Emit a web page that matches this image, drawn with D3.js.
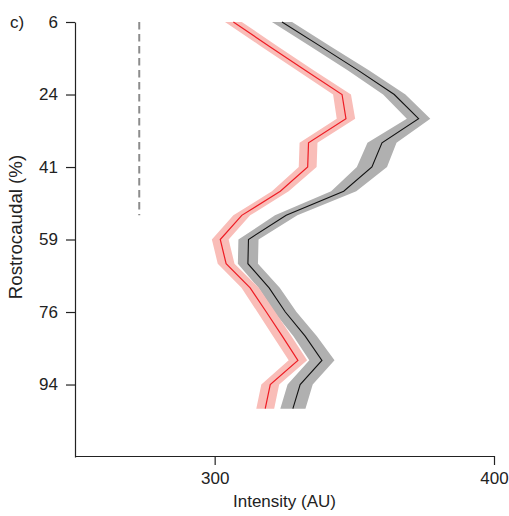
<!DOCTYPE html>
<html>
<head>
<meta charset="utf-8">
<script src="https://cdn.jsdelivr.net/npm/d3@7"></script>
<style>
  html, body { margin: 0; padding: 0; background: #fff; }
  svg text { font-family: "Liberation Sans", Arial, sans-serif; fill: #222; }
</style>
</head>
<body>
<svg id="chart" width="509" height="516"></svg>
<script>
// Rostrocaudal position (%) of each section
const positions = [5.88, 11.76, 17.65, 23.53, 29.41, 35.29, 41.18, 47.06, 52.94,
                   58.82, 64.71, 70.59, 76.47, 82.35, 88.24, 94.12, 100];

// Mean intensity (AU) and SEM per section, red group
const redMean = [306.7, 319.5, 332.4, 345.6, 347.0, 333.6, 333.3, 323.5, 309.7,
                 302.0, 304.1, 312.7, 318.5, 324.2, 329.8, 319.9, 318.1];
const redSem  = [3.0, 3.0, 3.0, 3.2, 3.3, 3.2, 3.2, 3.0, 3.0,
                 3.0, 3.0, 3.1, 3.2, 3.3, 3.3, 3.2, 3.2];

// Mean intensity (AU) and SEM per section, black group
const blackMean = [324.1, 337.8, 351.4, 364.3, 373.0, 359.9, 356.3, 346.2, 325.6,
                   312.1, 311.9, 319.5, 325.3, 332.4, 338.4, 330.6, 328.0];
const blackSem  = [3.6, 3.6, 3.8, 4.0, 4.2, 5.2, 5.4, 4.5, 4.0,
                   3.6, 3.6, 3.8, 4.0, 4.2, 4.5, 4.5, 4.5];

// Reference level drawn as a dashed line over the rostral sections
const refValue = 273;
const refExtent = [5.88, 52.94];

const yTickValues = [5.88, 23.53, 41.18, 58.82, 76.47, 94.12];
const xTickValues = [300, 400];

const svg = d3.select("#chart");

const x = d3.scaleLinear().domain([250, 400]).range([75, 494]);
const y = d3.scaleLinear().domain([5.88, 111.76]).range([22, 457]);

function band(mean, sem) {
  return d3.area()
    .y((d, i) => y(positions[i]))
    .x0((d, i) => x(mean[i] - sem[i]))
    .x1((d, i) => x(mean[i] + sem[i]))(mean);
}
function line(mean) {
  return d3.line()
    .y((d, i) => y(positions[i]))
    .x(d => x(d))(mean);
}

// SEM bands
svg.append("path").attr("d", band(blackMean, blackSem)).attr("fill", "#b0b0b0");
svg.append("path").attr("d", band(redMean, redSem)).attr("fill", "#f9bdb8");

// Mean lines
svg.append("path").attr("d", line(blackMean))
  .attr("fill", "none").attr("stroke", "#111").attr("stroke-width", 1.1);
svg.append("path").attr("d", line(redMean))
  .attr("fill", "none").attr("stroke", "#ee1c24").attr("stroke-width", 1.2);

// Dashed reference line
svg.append("line")
  .attr("x1", x(refValue)).attr("x2", x(refValue))
  .attr("y1", y(refExtent[0])).attr("y2", y(refExtent[1]))
  .attr("stroke", "#8c8c8c").attr("stroke-width", 2)
  .attr("stroke-dasharray", "7.5,4.5");

// Axes
const yAxis = d3.axisLeft(y)
  .tickValues(yTickValues)
  .tickFormat(d3.format(".0f"))
  .tickSizeInner(9).tickSizeOuter(0).tickPadding(8);
const gy = svg.append("g").attr("transform", "translate(75,0)").call(yAxis);

const xAxis = d3.axisBottom(x)
  .tickValues(xTickValues)
  .tickSizeInner(9).tickSizeOuter(0).tickPadding(7);
const gx = svg.append("g").attr("transform", "translate(0,456)").call(xAxis);

[gx, gy].forEach(g => {
  g.select(".domain").attr("stroke", "#222").attr("stroke-width", 1.2);
  g.selectAll(".tick line").attr("stroke", "#222").attr("stroke-width", 1.2);
  g.selectAll(".tick text").attr("font-size", 17).attr("fill", "#222")
    .attr("font-family", "Liberation Sans, Arial, sans-serif");
});

// Axis titles
svg.append("text")
  .attr("x", 284.5).attr("y", 507)
  .attr("text-anchor", "middle").attr("font-size", 17)
  .text("Intensity (AU)");

svg.append("text")
  .attr("transform", "translate(22,227) rotate(-90)")
  .attr("text-anchor", "middle").attr("font-size", 18.7)
  .text("Rostrocaudal (%)");

// Panel label
svg.append("text")
  .attr("x", 10).attr("y", 28)
  .attr("font-size", 17)
  .text("c)");
</script>
</body>
</html>
